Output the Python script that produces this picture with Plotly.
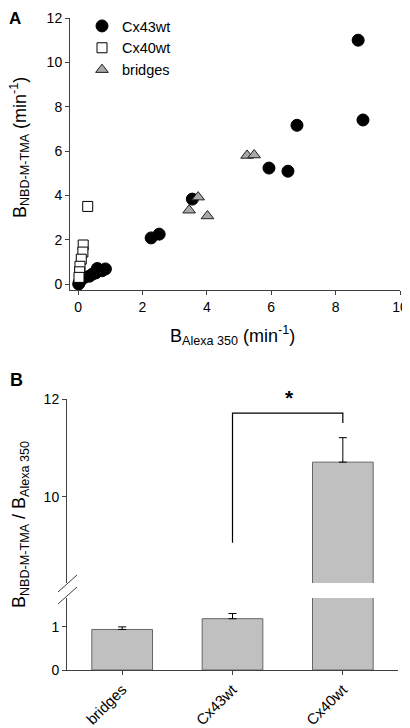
import plotly.graph_objects as go

# ---------------- Panel A data ----------------
cx43_x = [8.70, 8.85, 6.80, 5.93, 6.52, 3.55, 2.27, 2.52,
          0.02, 0.05, 0.10, 0.20, 0.35, 0.45, 0.55, 0.60, 0.75, 0.85]
cx43_y = [11.0, 7.40, 7.16, 5.23, 5.09, 3.83, 2.08, 2.25,
          0.00, 0.10, 0.20, 0.30, 0.35, 0.45, 0.50, 0.70, 0.60, 0.68]

cx40_x = [0.30, 0.16, 0.15, 0.10, 0.06, 0.05, 0.03]
cx40_y = [3.50, 1.76, 1.44, 1.12, 0.80, 0.55, 0.30]

br_x = [5.25, 5.47, 3.73, 3.45, 4.02]
br_y = [5.80, 5.82, 3.92, 3.33, 3.07]

xticks_a = [0, 2, 4, 6, 8, 10]
yticks_a = [0, 2, 4, 6, 8, 10, 12]

# ---------------- Panel B data ----------------
categories = ["bridges", "Cx43wt", "Cx40wt"]
ratio_mean = [0.94, 1.19, 10.71]
ratio_err = [0.06, 0.12, 0.50]

FONT = "Liberation Sans, Arial, sans-serif"
AX = "#404040"
OFF = 8                      # page body margin
W, H = 410 - OFF, 728 - OFF  # figure size so that it fits the window


def px(x):
    return (x - OFF) / W


def py(y):
    return 1 - (y - OFF) / H


fig = go.Figure()

fig.add_trace(go.Scatter(
    x=cx43_x, y=cx43_y, mode="markers", name="Cx43wt",
    marker=dict(symbol="circle", size=12, color="black",
                line=dict(color="black", width=1)),
    xaxis="x", yaxis="y"))
fig.add_trace(go.Scatter(
    x=cx40_x, y=cx40_y, mode="markers", name="Cx40wt",
    marker=dict(symbol="square", size=10, color="white",
                line=dict(color="black", width=1)),
    xaxis="x", yaxis="y"))
fig.add_trace(go.Scatter(
    x=br_x, y=br_y, mode="markers", name="bridges",
    marker=dict(symbol="triangle-up", size=11, color="#a8a8a8",
                line=dict(color="#202020", width=1)),
    xaxis="x", yaxis="y"))

# Panel B bars: lower segment and upper segment
fig.add_trace(go.Bar(
    x=categories, y=ratio_mean, width=0.55,
    marker=dict(color="#c0c0c0", line=dict(color="#666666", width=1)),
    error_y=dict(type="data", array=ratio_err[:2] + [0], arrayminus=[0, 0, 0],
                 symmetric=False, color="black", thickness=1, width=4),
    xaxis="x2", yaxis="y2", showlegend=False))
fig.add_trace(go.Bar(
    x=categories[2:], y=ratio_mean[2:], width=0.55,
    marker=dict(color="#c0c0c0", line=dict(color="#666666", width=1)),
    error_y=dict(type="data", array=ratio_err[2:], arrayminus=[0],
                 symmetric=False, color="black", thickness=1, width=4),
    xaxis="x2", yaxis="y3", showlegend=False))

axis_common = dict(showline=True, linecolor=AX, linewidth=1, ticks="outside",
                   ticklen=4, tickcolor=AX, showgrid=False, zeroline=False,
                   automargin=False,
                   tickfont=dict(family=FONT, size=14, color="black"))

fig.update_layout(
    width=W, height=H, margin=dict(l=0, r=0, t=0, b=0, autoexpand=False),
    paper_bgcolor="white", plot_bgcolor="white",
    barmode="overlay",
    font=dict(family=FONT, color="black"),
    showlegend=True,
    legend=dict(x=px(82), y=py(10), xanchor="left", yanchor="top",
                font=dict(family=FONT, size=14.5, color="black"),
                bgcolor="rgba(0,0,0,0)", tracegroupgap=0),
    xaxis=dict(domain=[px(70), px(400)], range=[-0.25, 10], anchor="y",
               tickvals=xticks_a, **axis_common),
    yaxis=dict(domain=[py(290), py(18)], range=[-0.27, 12], anchor="x",
               tickvals=yticks_a, **axis_common),
    xaxis2=dict(domain=[px(67), px(398)], range=[-0.5, 2.5], anchor="y2",
                type="category", categoryorder="array", categoryarray=categories,
                tickangle=-45, **{**axis_common,
                                   "tickfont": dict(family=FONT, size=15, color="black")}),
    yaxis2=dict(domain=[py(670), py(598)], range=[0, 1.67], anchor="x2",
                tickvals=[0, 1], **axis_common),
    yaxis3=dict(domain=[py(583), py(399)], range=[8.24, 12], anchor="x2",
                tickvals=[10, 12], **axis_common),
)

# significance bracket (upper segment coordinates)
fig.add_shape(type="path", xref="x2", yref="y3",
              path="M 1,9.06 L 1,11.71 L 2,11.71 L 2,11.51",
              line=dict(color="black", width=1.2))
fig.add_annotation(x=px(289), y=py(397), xref="paper", yref="paper", text="<b>*</b>",
                   showarrow=False, xanchor="center", yanchor="middle",
                   font=dict(family=FONT, size=21, color="black"))

# axis break marks
for y0 in (592, 604):
    fig.add_shape(type="line", xref="paper", yref="paper",
                  x0=px(58), y0=py(y0), x1=px(77), y1=py(y0 - 17),
                  line=dict(color=AX, width=1))

# axis titles
TF = dict(family=FONT, size=18, color="black")
fig.add_annotation(x=px(232), y=py(336), xref="paper", yref="paper",
                   xanchor="center", yanchor="middle",
                   text="B<sub>Alexa 350</sub> (min<sup>-1</sup>)", showarrow=False, font=TF)
fig.add_annotation(x=px(20), y=py(148), xref="paper", yref="paper", textangle=-90,
                   xanchor="center", yanchor="middle",
                   text="B<sub>NBD-M-TMA</sub> (min<sup>-1</sup>)", showarrow=False, font=TF)
fig.add_annotation(x=px(20), y=py(525), xref="paper", yref="paper", textangle=-90,
                   xanchor="center", yanchor="middle",
                   text="B<sub>NBD-M-TMA</sub> / B<sub>Alexa 350</sub>", showarrow=False, font=TF)

# panel labels
fig.add_annotation(x=px(8), y=py(8), xref="paper", yref="paper", text="<b>A</b>",
                   xanchor="left", yanchor="top", borderpad=0,
                   showarrow=False, font=dict(family=FONT, size=17, color="black"))
fig.add_annotation(x=px(8), y=py(380), xref="paper", yref="paper", text="<b>B</b>",
                   xanchor="left", yanchor="middle",
                   showarrow=False, font=dict(family=FONT, size=18, color="black"))

fig.write_html("out.html")
